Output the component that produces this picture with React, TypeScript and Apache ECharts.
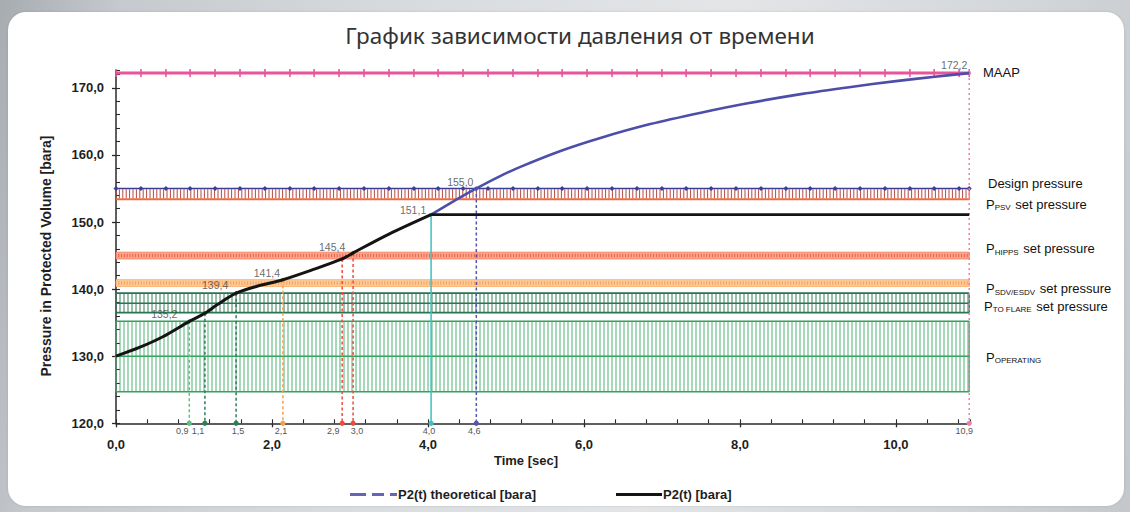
import React, { useEffect, useRef } from 'react';
import * as echarts from 'echarts';

// ---------------- data ----------------
const titleText = 'График зависимости давления от времени';
const xAxisName = 'Time [sec]';
const yAxisName = 'Pressure in Protected Volume [bara]';

const xMin = 0;
const xMax = 10.95;
const yMin = 120;
const yMax = 172.6;
const xMajorInterval = 2;
const xMinorInterval = 0.4;
const yMajorInterval = 10;
const yMinorInterval = 2;

const theoName = 'P2(t) theoretical [bara]';
const p2Name = 'P2(t) [bara]';

// P2(t) measured curve
const p2Times = [0, 0.3, 0.6, 0.94, 1.14, 1.3, 1.54, 1.8, 2.14, 2.5, 2.9, 3.04, 3.5, 4.04];
const p2Values = [130.0, 131.3, 132.9, 135.2, 136.4, 137.7, 139.4, 140.4, 141.4, 142.8, 144.5, 145.4, 148.2, 151.1];
// P2(t) after closure (flat)
const p2FlatTimes = [4.04, 10.94];
const p2FlatValues = [151.1, 151.1];

// theoretical curve
const theoTimes = [4.04, 4.3, 4.62, 4.9, 5.2, 5.7, 6.2, 6.85, 7.5, 8.1, 8.8, 9.4, 10.0, 10.5, 10.94];
const theoValues = [151.1, 152.9, 155.0, 156.7, 158.3, 160.6, 162.5, 164.6, 166.3, 167.7, 169.1, 170.1, 171.0, 171.65, 172.2];

// reference levels
const maapLevel = 172.2;
const designLevel = 155.0;
const levelMarkTimes = [0, 0.32, 0.64, 0.95, 1.27, 1.59, 1.91, 2.23, 2.54, 2.86, 3.18, 3.5, 3.82, 4.13, 4.45, 4.77, 5.09, 5.41, 5.72, 6.04, 6.36, 6.68, 7.0, 7.31, 7.63, 7.95, 8.27, 8.59, 8.9, 9.22, 9.54, 9.86, 10.18, 10.49, 10.81, 10.94];

// hatched bands: PSV (below design), HIPPS, SDV/ESDV, TO FLARE, OPERATING
const bandLow = [153.4, 144.5, 140.4, 136.5, 124.7];
const bandHigh = [155.0, 145.5, 141.4, 139.4, 135.2];
const bandMid = [null, null, null, 137.9, 130.0];
const bandFrom = 0;
const bandTo = 10.94;

// drop lines
const dropTimes = [0.94, 1.14, 1.54, 2.14, 2.9, 3.04, 4.04, 4.62, 10.94];
const dropValues = [135.2, 136.4, 139.4, 141.4, 144.5, 145.4, 151.1, 155.0, 172.2];
const dropLabels = ['0,9', '1,1', '1,5', '2,1', '2,9', '3,0', '4,0', '4,6', '10,9'];

// point value labels
const pointTimes = [0.94, 1.54, 2.14, 3.04, 4.04, 4.62, 10.94];
const pointValues = [135.2, 139.4, 141.4, 145.4, 151.1, 155.0, 172.2];
const pointLabels = ['135,2', '139,4', '141,4', '145,4', '151,1', '155,0', '172,2'];

// right-side level labels
const levelMain = ['MAAP', 'Design pressure', 'P', 'P', 'P', 'P', 'P'];
const levelSub = ['', '', 'PSV', 'HIPPS', 'SDV/ESDV', 'TO FLARE', 'OPERATING'];
const levelRest = ['', '', ' set pressure', ' set pressure', ' set pressure', ' set pressure', ''];

// ---------------- styles ----------------
const FONT = '"Liberation Sans", Arial, Helvetica, sans-serif';
const W = 1130;
const H = 512;
const GRID = { left: 116, right: 160, top: 70.4, bottom: 88.7 };
const GRID_W = W - GRID.left - GRID.right;
const GRID_H = H - GRID.top - GRID.bottom;

const bandStyles = [
  { fill: 'rgba(255,255,255,0)', hatch: '#b8483c', hatchW: 1, step: 3.4, inset: 0.8, edgeTop: null, edgeBottom: '#ef6a42', edgeW: 2, mid: null },
  { fill: '#f9a990', hatch: '#ee5a40', hatchW: 1, step: 2.8, inset: 1.6, edgeTop: '#f48a68', edgeBottom: '#f48a68', edgeW: 1, mid: null },
  { fill: '#fdcb9c', hatch: '#f59e50', hatchW: 1, step: 2.8, inset: 1.6, edgeTop: '#f8b476', edgeBottom: '#f8b476', edgeW: 1, mid: null },
  { fill: 'rgba(255,255,255,0)', hatch: '#32805a', hatchW: 1, step: 4, inset: 0, edgeTop: '#2a7550', edgeBottom: '#2a7550', edgeW: 1.6, mid: '#2a7550' },
  { fill: 'rgba(255,255,255,0)', hatch: '#4cb272', hatchW: 1, step: 4, inset: 0, edgeTop: '#36a05e', edgeBottom: '#36a05e', edgeW: 1.6, mid: '#36a05e' },
];

const dropColors = ['#5cc07e', '#2f7d57', '#2f7d57', '#f5a04e', '#ee4b3b', '#ee4b3b', '#3fbfc0', '#5555ad', '#f07fab'];
const dropDash = ['dash', 'dash', 'dash', 'dash', 'dash', 'dash', 'solid', 'dash', 'dot'];
const dropLabelDx = [-7, -7, 2, -2, -9, 4, -2, -2, -5];
const pointLabelOffsets = [[-25, -7], [-21, -8], [-16, -7], [-21, -6], [-18, -5], [-16, -6], [-15, -8]];

const levelLabelPos = [[983, 72], [988, 183.5], [986, 204], [986, 248.5], [986, 288.5], [984, 306], [986, 357]];

const fmt = (v: number) => v.toFixed(1).replace('.', ',');

function renderBand(params: any, api: any) {
  const i = params.dataIndex;
  const lo = api.value(1);
  const hi = api.value(2);
  const a = api.coord([bandFrom, hi]);
  const b = api.coord([bandTo, lo]);
  const x0 = a[0];
  const x1 = b[0];
  const yTop = a[1];
  const yBot = b[1];
  const st = bandStyles[i];
  const children: any[] = [];
  children.push({
    type: 'rect',
    shape: { x: x0, y: yTop, width: x1 - x0, height: yBot - yTop },
    style: { fill: st.fill },
  });
  for (let x = x0; x <= x1 + 0.01; x += st.step) {
    children.push({
      type: 'line',
      shape: { x1: x, y1: yTop + st.inset, x2: x, y2: yBot - st.inset },
      style: { stroke: st.hatch, lineWidth: st.hatchW },
    });
  }
  children.push({ type: 'line', shape: { x1: x1, y1: yTop, x2: x1, y2: yBot }, style: { stroke: st.edgeBottom || st.hatch, lineWidth: 1.2 } });
  if (st.edgeTop) {
    children.push({ type: 'line', shape: { x1: x0, y1: yTop, x2: x1, y2: yTop }, style: { stroke: st.edgeTop, lineWidth: st.edgeW } });
  }
  if (st.edgeBottom) {
    children.push({ type: 'line', shape: { x1: x0, y1: yBot, x2: x1, y2: yBot }, style: { stroke: st.edgeBottom, lineWidth: st.edgeW } });
  }
  const m = bandMid[i];
  if (m != null && st.mid) {
    const pm = api.coord([bandFrom, m]);
    children.push({ type: 'line', shape: { x1: x0, y1: pm[1], x2: x1, y2: pm[1] }, style: { stroke: st.mid, lineWidth: st.edgeW } });
  }
  return { type: 'group', children };
}

function renderDrop(params: any, api: any) {
  const i = params.dataIndex;
  const t = api.value(0);
  const v = api.value(1);
  const top = api.coord([t, v]);
  const bot = api.coord([t, yMin]);
  const c = dropColors[i];
  const kind = dropDash[i];
  const dash = kind === 'solid' ? null : kind === 'dot' ? [2, 3] : [3, 2.5];
  return {
    type: 'group',
    children: [
      {
        type: 'line',
        shape: { x1: top[0], y1: top[1], x2: bot[0], y2: bot[1] + (kind === 'dot' ? 4 : 0) },
        style: { stroke: c, lineWidth: 1.5, lineDash: dash },
      },
      { type: 'circle', shape: { cx: top[0], cy: top[1], r: 2 }, style: { fill: c } },
      { type: 'circle', shape: { cx: bot[0], cy: bot[1], r: 2.6 }, style: { fill: c } },
      {
        type: 'text',
        x: bot[0] + dropLabelDx[i],
        y: bot[1] + 8,
        style: { text: dropLabels[i], fill: '#555', fontSize: 9, fontFamily: FONT, align: 'center', verticalAlign: 'middle' },
      },
    ],
  };
}

export default function App() {
  const ref = useRef<HTMLDivElement>(null);

  useEffect(() => {
    document.body.style.margin = '0';
    if (!ref.current) return;
    const chart = echarts.init(ref.current, undefined, { renderer: 'svg' });

    const axisText = { fontFamily: FONT, fontSize: 13, fontWeight: 'bold' as const, color: '#1e1e1e' };

    const graphics: any[] = [
      {
        type: 'text',
        x: 580,
        y: 35,
        style: { text: titleText, fontFamily: '"Noto Sans", "Open Sans", sans-serif', fontSize: 22.5, fill: '#333', align: 'center', verticalAlign: 'middle' },
      },
      {
        type: 'text',
        x: 526,
        y: 460,
        style: { text: xAxisName, fontFamily: FONT, fontSize: 13, fontWeight: 'bold', fill: '#1e1e1e', align: 'center', verticalAlign: 'middle' },
      },
      {
        type: 'text',
        x: 46,
        y: 256,
        rotation: Math.PI / 2,
        style: { text: yAxisName, fontFamily: FONT, fontSize: 14, fontWeight: 'bold', fill: '#1e1e1e', align: 'center', verticalAlign: 'middle' },
      },
    ];
    levelMain.forEach((m, i) => {
      const sub = levelSub[i];
      const text = sub ? `{p|${m}}{s|${sub}}{t|${levelRest[i]}}` : `{t|${m}}`;
      graphics.push({
        type: 'text',
        x: levelLabelPos[i][0],
        y: levelLabelPos[i][1],
        style: {
          text,
          align: 'left',
          verticalAlign: 'middle',
          fill: '#111',
          rich: {
            p: { fontFamily: FONT, fontSize: 13, lineHeight: 15, fill: '#111' },
            s: { fontFamily: FONT, fontSize: 8, lineHeight: 8, verticalAlign: 'bottom', fill: '#111', padding: [0, 1, 0, 0] },
            t: { fontFamily: FONT, fontSize: 13, lineHeight: 15, fill: '#111' },
          },
        },
      });
    });

    const option: any = {
      animation: false,
      backgroundColor: 'transparent',
      grid: { ...GRID, containLabel: false, outerBoundsMode: 'none' },
      legend: [
        {
          left: 345,
          top: 483,
          itemWidth: 47,
          itemHeight: 3,
          selectedMode: false,
          textStyle: { ...axisText, padding: [0, 0, 0, -4] },
          data: [{ name: theoName, icon: 'path://M0,0H16V3H0ZM22,0H34V3H22ZM40,0H47V3H40Z', itemStyle: { color: '#6464b8' } }],
        },
        {
          left: 611,
          top: 483,
          itemWidth: 46,
          itemHeight: 3,
          selectedMode: false,
          textStyle: { ...axisText, padding: [0, 0, 0, -4] },
          data: [{ name: p2Name, icon: 'path://M0,0H46V3H0Z', itemStyle: { color: '#141414' } }],
        },
      ],
      xAxis: [
        {
          type: 'value',
          min: xMin,
          max: xMax,
          interval: xMajorInterval,
          position: 'bottom',
          axisLine: { show: true, onZero: false, lineStyle: { color: '#2a2a2a', width: 1.5 } },
          axisTick: { show: true, inside: false, length: 4, lineStyle: { color: '#2a2a2a', width: 1.3 } },
          axisLabel: { ...axisText, margin: 15, showMaxLabel: false, formatter: (v: number) => fmt(v) },
          splitLine: { show: false },
        },
        {
          type: 'value',
          min: xMin,
          max: xMax,
          interval: xMinorInterval,
          position: 'top',
          offset: -GRID_H,
          axisLine: { show: false, onZero: false },
          axisTick: { show: true, inside: false, length: 4, lineStyle: { color: '#2a2a2a', width: 1.1 } },
          axisLabel: { show: false },
          splitLine: { show: false },
        },
      ],
      yAxis: [
        {
          type: 'value',
          min: yMin,
          max: yMax,
          interval: yMajorInterval,
          position: 'left',
          axisLine: { show: true, onZero: false, lineStyle: { color: '#2a2a2a', width: 1.5 } },
          axisTick: { show: true, inside: false, length: 4, lineStyle: { color: '#2a2a2a', width: 1.3 } },
          axisLabel: { ...axisText, margin: 12, showMaxLabel: false, formatter: (v: number) => fmt(v) },
          splitLine: { show: false },
        },
        {
          type: 'value',
          min: yMin,
          max: yMax,
          interval: yMinorInterval,
          position: 'right',
          offset: -GRID_W,
          axisLine: { show: false, onZero: false },
          axisTick: { show: true, inside: false, length: 4, lineStyle: { color: '#2a2a2a', width: 1.1 } },
          axisLabel: { show: false },
          splitLine: { show: false },
        },
      ],
      graphic: graphics,
      series: [
        {
          name: 'bands',
          type: 'custom',
          z: 1,
          silent: true,
          renderItem: renderBand,
          data: bandLow.map((lo, i) => [bandFrom, lo, bandHigh[i]]),
        },
        {
          name: 'MAAP',
          type: 'line',
          z: 2,
          silent: true,
          data: levelMarkTimes.map((t) => [t, maapLevel]),
          symbol: 'rect',
          symbolSize: [1.6, 8],
          itemStyle: { color: '#e8559a' },
          lineStyle: { color: '#e8559a', width: 3 },
        },
        {
          name: 'Design pressure',
          type: 'line',
          z: 2,
          silent: true,
          data: levelMarkTimes.map((t) => [t, designLevel]),
          symbol: 'diamond',
          symbolSize: 5,
          itemStyle: { color: '#3d3d98' },
          lineStyle: { color: '#3d3d98', width: 1.5 },
        },
        {
          name: 'drops',
          type: 'custom',
          z: 3,
          silent: true,
          renderItem: renderDrop,
          data: dropTimes.map((t, i) => [t, dropValues[i]]),
        },
        {
          name: theoName,
          type: 'line',
          z: 4,
          silent: true,
          data: theoTimes.map((t, i) => [t, theoValues[i]]),
          smooth: 0.3,
          symbol: 'none',
          itemStyle: { color: '#4d4daa' },
          lineStyle: { color: '#4d4daa', width: 2.6 },
        },
        {
          name: p2Name,
          type: 'line',
          z: 5,
          silent: true,
          data: p2Times.map((t, i) => [t, p2Values[i]]),
          smooth: 0.3,
          symbol: 'none',
          itemStyle: { color: '#141414' },
          lineStyle: { color: '#141414', width: 3 },
        },
        {
          name: p2Name,
          type: 'line',
          z: 5,
          silent: true,
          data: p2FlatTimes.map((t, i) => [t, p2FlatValues[i]]),
          symbol: 'none',
          itemStyle: { color: '#141414' },
          lineStyle: { color: '#141414', width: 2.6 },
        },
        {
          name: 'values',
          type: 'scatter',
          z: 6,
          silent: true,
          symbolSize: 0,
          data: pointTimes.map((t, i) => ({
            value: [t, pointValues[i]],
            label: { offset: pointLabelOffsets[i] },
          })),
          label: {
            show: true,
            position: 'inside',
            fontFamily: FONT,
            fontSize: 10.5,
            color: '#444',
            formatter: (p: any) => pointLabels[p.dataIndex],
          },
        },
      ],
    };

    chart.setOption(option);
    return () => chart.dispose();
  }, []);

  return (
    <div
      style={{
        position: 'relative',
        width: W,
        height: H,
        overflow: 'hidden',
        background: 'linear-gradient(100deg, #a7acb1 0%, #c6cace 10%, #d9dcdf 35%, #e3e5e7 60%, #d3d6d9 85%, #c4c8cc 100%)',
      }}
    >
      <div
        style={{
          position: 'absolute',
          left: 8,
          top: 12,
          width: 1116,
          height: 494,
          background: '#ffffff',
          borderRadius: 18,
          boxShadow: '0 0 3px rgba(0,0,0,0.12)',
        }}
      />
      <div ref={ref} style={{ position: 'absolute', left: 0, top: 0, width: W, height: H }} />
    </div>
  );
}
